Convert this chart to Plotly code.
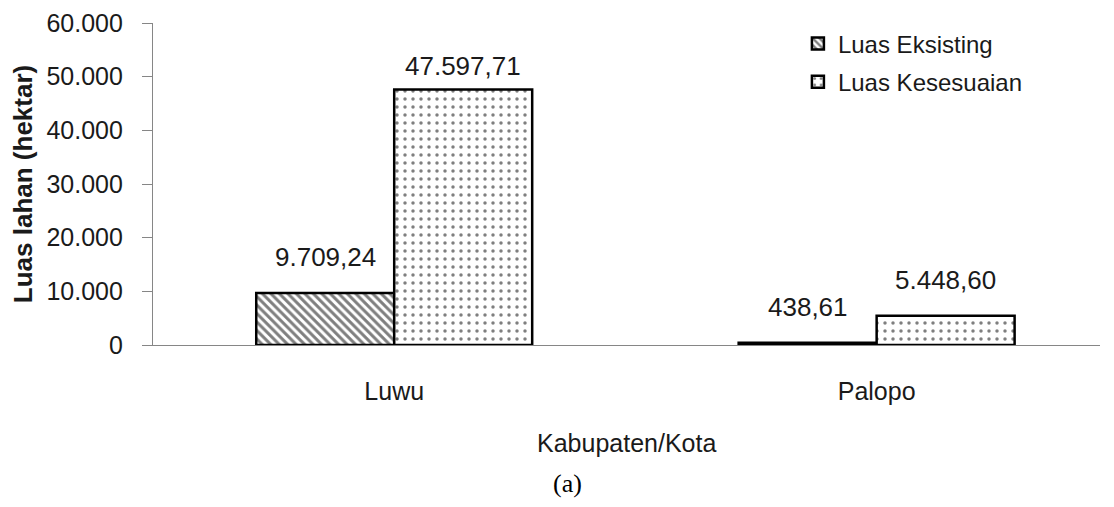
import plotly.graph_objects as go

categories = ["Luwu", "Palopo"]
series_names = ["Luas Eksisting", "Luas Kesesuaian"]
eksisting = [9709.24, 438.61]
kesesuaian = [47597.71, 5448.60]
y_ticks = [0, 10000, 20000, 30000, 40000, 50000, 60000]


def fmt_id(v):
    s = f"{v:,.2f}"
    return s.replace(",", "X").replace(".", ",").replace("X", ".")


FONT = "Liberation Sans, Arial, sans-serif"
TXT = "#1a1a1a"

fig = go.Figure()
fig.add_trace(go.Bar(
    x=categories, y=eksisting, name=series_names[0],
    marker=dict(color="white", line=dict(color="black", width=2.5),
                pattern=dict(shape="\\", fgcolor="black", bgcolor="white", size=6, solidity=0.5)),
    legendgroup="a",
))
fig.add_trace(go.Bar(
    x=categories, y=kesesuaian, name=series_names[1],
    marker=dict(color="white", line=dict(color="black", width=2.5),
                pattern=dict(shape=".", fgcolor="black", bgcolor="white", size=8, solidity=0.15)),
    legendgroup="b",
))

annotations = []
for i, c in enumerate(categories):
    for vals, xs in ((eksisting, -69), (kesesuaian, 69)):
        v = vals[i]
        shift = 36 if v < 40000 else 24
        annotations.append(dict(
            x=c, y=v, xref="x", yref="y", xshift=xs, yshift=shift,
            text=fmt_id(v), showarrow=False, yanchor="middle",
            font=dict(family=FONT, size=26, color=TXT),
        ))

annotations.append(dict(
    x=0.5, y=-0.305, xref="paper", yref="paper", yanchor="middle",
    text="Kabupaten/Kota", showarrow=False,
    font=dict(family=FONT, size=25, color=TXT),
))
annotations.append(dict(
    x=0.4375, y=-0.43, xref="paper", yref="paper", yanchor="middle",
    text="(a)", showarrow=False,
    font=dict(family="Liberation Serif, Times New Roman, serif", size=26, color="black"),
))

fig.update_layout(
    width=1106, height=499,
    margin=dict(l=145, r=14, t=15, b=162, autoexpand=False),
    paper_bgcolor="white", plot_bgcolor="white",
    separators=",.",
    barmode="group", bargap=0.428, bargroupgap=0,
    font=dict(family=FONT, size=24, color=TXT),
    showlegend=True,
    legend=dict(x=0.681, y=1.005, xanchor="left", yanchor="top",
                font=dict(family=FONT, size=24, color=TXT),
                tracegroupgap=4, traceorder="grouped",
                bgcolor="rgba(0,0,0,0)"),
    xaxis=dict(
        range=[-0.5, 1.463], showline=True, linecolor="#868686", linewidth=1.3,
        ticks="", tickfont=dict(family=FONT, size=25, color=TXT),
        ticklabelstandoff=24, automargin=False,
    ),
    yaxis=dict(
        range=[0, 60000], tickvals=y_ticks, tickformat=",.0f",
        showline=True, linecolor="#868686", linewidth=1.3,
        ticks="outside", ticklen=10, tickcolor="#868686", tickwidth=1.3,
        showgrid=False, zeroline=False, automargin=False,
        tickfont=dict(family=FONT, size=25, color=TXT),
        ticklabelstandoff=14,
        title=dict(text="<b>Luas lahan (hektar)</b>", font=dict(family=FONT, size=26, color=TXT), standoff=18),
    ),
    annotations=annotations,
)
fig.write_html("out.html")
